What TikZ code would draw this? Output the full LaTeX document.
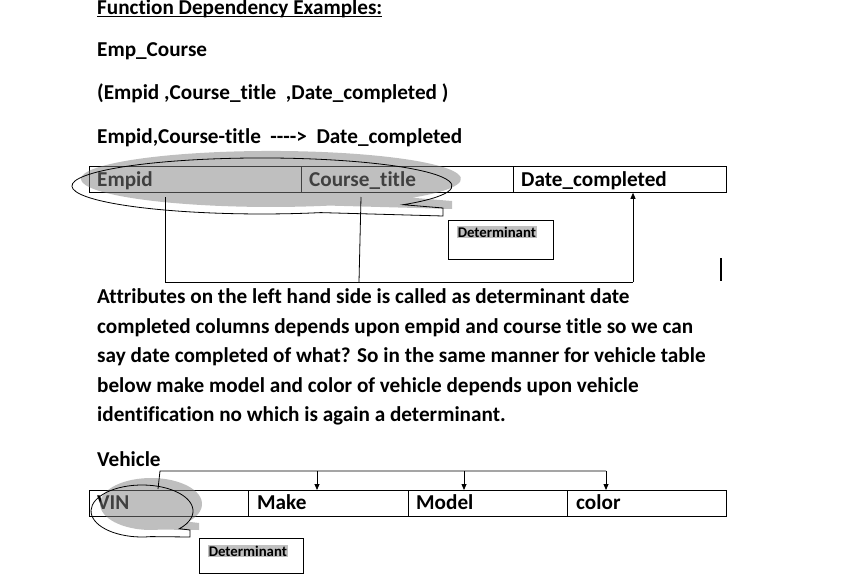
\documentclass[tikz,border=0pt]{standalone}
\usepackage{fontspec}
\setmainfont{Carlito}[Ligatures={TeX,NoCommon}]
\usetikzlibrary{arrows.meta}
\definecolor{hl}{RGB}{192,192,192}
\begin{document}
\begin{tikzpicture}[x=1pt,y=-1pt,
  font=\bfseries\fontsize{21.2}{25}\selectfont,
  cell/.style={draw, line width=0.8pt, minimum height=26pt, inner sep=0, anchor=north west},
  txt/.style={anchor=base west, inner sep=0},
  small/.style={font=\bfseries\fontsize{14.8}{17}\selectfont, fill=hl, inner sep=0.6pt, anchor=base west},
  dbox/.style={draw, line width=0.8pt, anchor=north west, inner sep=0},
  conn/.style={line width=0.8pt},
  arr/.style={conn, -{Triangle[length=6pt,width=5pt]}},
  shade/.style={fill=gray, fill opacity=0.5, draw=none},
  outline/.style={draw=black, line width=0.8pt}]
\useasboundingbox (0,0) rectangle (862,583);

% heading texts
\node[txt] (title) at (97,15) {Function Dependency Examples:};
\draw[line width=1pt] ([yshift=-2pt]title.base west) -- ([yshift=-2pt]title.base east);
\node[txt] (empc) at (97,57) {Emp\_Course};
\node[txt] (attrs) at (97,100) {(Empid ,Course\_title\ \ ,Date\_completed )};
\node[txt] (fd) at (97,143) {Empid,Course-title\ \ -{}-{}-{}->\ \ Date\_completed};

% table 1
\node[txt] (t1a) at (97,186) {Empid};
\node[txt] (t1b) at (309,186) {Course\_title};
\node[txt] (t1c) at (521,186) {Date\_completed};
\node[cell, minimum width=212pt] (e1) at (89,166) {};
\node[cell, minimum width=212pt] (e2) at (301,166) {};
\node[cell, minimum width=213pt] (e3) at (513,166) {};

% callout 1 (shadow + outline)
\begin{scope}[shift={(9,-7)}]
\fill[shade] (320.7,212.6) arc[start angle=72, end angle=402, x radius=190, y radius=28] -- (443,208) -- (443,216) -- cycle;
\end{scope}
\draw[outline] (320.7,212.6) arc[start angle=72, end angle=402, x radius=190, y radius=28] -- (443,208) -- (443,216) -- cycle;

% determinant box 1
\node[dbox, minimum width=105pt, minimum height=39pt] (d1) at (448,220) {};
\node[small] (d1t) at (457,237) {Determinant};

% connectors table 1
\coordinate (p1) at (165,197);
\coordinate (p2) at (361,197);
\coordinate (j1) at (165,282);
\coordinate (j2) at (359,282);
\coordinate (j3) at (633,282);
\draw[conn] (p1) -- (j1) -- (j3);
\draw[conn] (p2) -- (j2);
\draw[arr] (j3) -- (j3 |- e3.south);

% cursor bar
\coordinate (c1) at (721,258);
\coordinate (c2) at (721,281);
\draw[line width=1.6pt] (c1) -- (c2);

% paragraph
\node[txt] (l1) at (97,303) {Attributes on the left hand side is called as determinant date};
\node[txt] (l2) at (97,333) {completed columns depends upon empid and course title so we can};
\node[txt] (l3) at (97,362) {say date completed of what? So in the same manner for vehicle table};
\node[txt] (l4) at (97,392) {below make model and color of vehicle depends upon vehicle};
\node[txt] (l5) at (97,421) {identification no which is again a determinant.};

\node[txt] (veh) at (97,466) {Vehicle};

% table 2
\node[txt] (t2a) at (97,509) {VIN};
\node[txt] (t2b) at (257,509) {Make};
\node[txt] (t2c) at (416,509) {Model};
\node[txt] (t2d) at (576,509) {color};
\node[cell, minimum width=159pt] (v1) at (89,490) {};
\node[cell, minimum width=160pt] (v2) at (248,490) {};
\node[cell, minimum width=159pt] (v3) at (408,490) {};
\node[cell, minimum width=159pt] (v4) at (567,490) {};

% callout 2
\begin{scope}[shift={(9,-7)}]
\fill[shade] (150.9,536.6) arc[start angle=80, end angle=403, x radius=51, y radius=26] -- (190,530) -- (190,537) -- cycle;
\end{scope}
\draw[outline] (150.9,536.6) arc[start angle=80, end angle=403, x radius=51, y radius=26] -- (190,530) -- (190,537) -- cycle;

% determinant box 2
\node[dbox, minimum width=104pt, minimum height=35pt] (d2) at (199,538) {};
\node[small] (d2t) at (208,556) {Determinant};

% bracket connectors table 2
\coordinate (b0) at (158,489);
\coordinate (b1) at (160,471);
\coordinate (b2) at (317,471);
\coordinate (b3) at (464,471);
\coordinate (b4) at (606,471);
\draw[conn] (b0) -- (b1) -- (b4);
\draw[arr] (b2) -- (b2 |- v2.north);
\draw[arr] (b3) -- (b3 |- v3.north);
\draw[arr] (b4) -- (b4 |- v4.north);
\end{tikzpicture}
\end{document}
